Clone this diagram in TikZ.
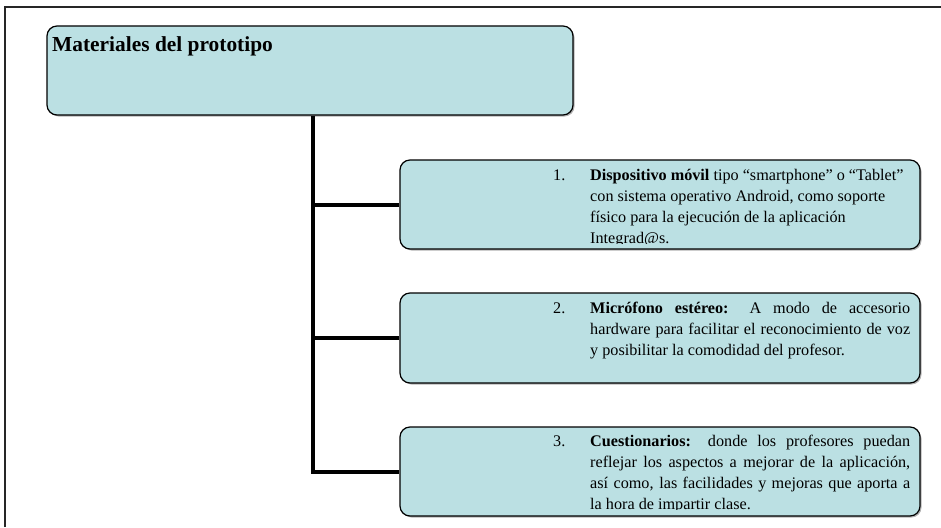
\documentclass[tikz,border=0pt]{standalone}
\usepackage{fontspec}
\setmainfont{Liberation Serif}
\definecolor{boxfill}{RGB}{187,224,227}
\newcommand{\itempar}[1]{\parbox[t]{320pt}{\fontsize{16.2}{21}\selectfont\leftskip=0pt\rightskip=0pt\parfillskip=0pt plus 1fil\spaceskip=0pt\tolerance=10000\noindent #1}}
\tikzset{
  box/.style={draw=black, line width=1.2pt, fill=boxfill, rounded corners=10pt, inner sep=0pt},
  shade/.style={fill=black!30, rounded corners=10pt, draw=none},
  conn/.style={line width=4pt, draw=black},
  frame/.style={line width=1.5pt, draw=black!85},
  itemtext/.style={anchor=base west, inner sep=0pt},
  itemnum/.style={font=\fontsize{16.2}{21}\selectfont, anchor=base west, inner sep=0pt},
}
\begin{document}
\begin{tikzpicture}[x=1pt,y=-1pt]
\useasboundingbox (0,0) rectangle (941,527);
\draw[frame] (5,527) -- (5,7) -- (941,7);
% main box
\fill[shade] (48.5,27.5) rectangle (574.5,116.5);
\node[box, minimum width=526pt, minimum height=89pt] (main) at (310,70.5) {};
\node[anchor=base west, inner sep=0pt, font=\fontsize{21.4}{25}\selectfont\bfseries] (title) at (52,52) {Materiales del prototipo};
% item boxes
\fill[shade] (401.5,161.5) rectangle (921.5,250.5);
\fill[shade] (401.5,294.5) rectangle (921.5,384.5);
\fill[shade] (401.5,428.5) rectangle (921.5,517.5);
\node[box, minimum width=520pt, minimum height=89pt] (b1) at (660,204.5) {};
\node[box, minimum width=520pt, minimum height=90pt] (b2) at (660,338) {};
\node[box, minimum width=520pt, minimum height=89pt] (b3) at (660,471.5) {};
% connectors
\coordinate (tx) at (313,0);
\draw[conn] (main.south -| tx) |- (b3.west);
\draw[conn] (b1.west -| tx) -- (b1.west);
\draw[conn] (b2.west -| tx) -- (b2.west);
% texts
\node[itemnum] (n1) at (553,180) {1.};
\begin{scope}
\clip (401,161) rectangle (919,243.5);
\node[itemtext] (t1) at (590,180) {\itempar{\textbf{Dispositivo móvil} tipo “smartphone” o “Tablet”\\ con sistema operativo Android, como soporte\\ físico para la ejecución de la aplicación\\ Integrad@s.}};
\end{scope}
\node[itemnum] (n2) at (553,313) {2.};
\node[itemtext] (t2) at (590,313) {\itempar{\textbf{Micrófono estéreo:} A modo de accesorio\linebreak hardware para facilitar el reconocimiento de voz\linebreak y posibilitar la comodidad del profesor.}};
\node[itemnum] (n3) at (553,446) {3.};
\begin{scope}
\clip (401,428) rectangle (919,509.5);
\node[itemtext] (t3) at (590,446) {\itempar{\textbf{Cuestionarios:} donde los profesores puedan\linebreak reflejar los aspectos a mejorar de la aplicación,\linebreak así como, las facilidades y mejoras que aporta a\linebreak la hora de impartir clase.}};
\end{scope}
\end{tikzpicture}
\end{document}
